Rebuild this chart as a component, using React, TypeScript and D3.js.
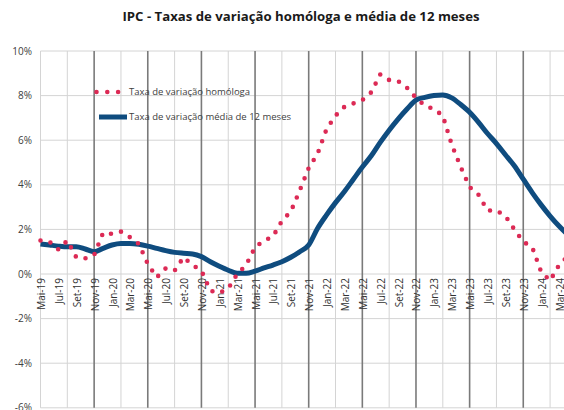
import React, { useEffect, useRef } from "react";
import * as d3 from "d3";

// meses (Mai-19 .. Abr-24)
const months = [
  "Mai-19", "Jun-19", "Jul-19", "Ago-19", "Set-19", "Out-19", "Nov-19", "Dez-19",
  "Jan-20", "Fev-20", "Mar-20", "Abr-20", "Mai-20", "Jun-20", "Jul-20", "Ago-20",
  "Set-20", "Out-20", "Nov-20", "Dez-20", "Jan-21", "Fev-21", "Mar-21", "Abr-21",
  "Mai-21", "Jun-21", "Jul-21", "Ago-21", "Set-21", "Out-21", "Nov-21", "Dez-21",
  "Jan-22", "Fev-22", "Mar-22", "Abr-22", "Mai-22", "Jun-22", "Jul-22", "Ago-22",
  "Set-22", "Out-22", "Nov-22", "Dez-22", "Jan-23", "Fev-23", "Mar-23", "Abr-23",
  "Mai-23", "Jun-23", "Jul-23", "Ago-23", "Set-23", "Out-23", "Nov-23", "Dez-23",
  "Jan-24", "Fev-24", "Mar-24", "Abr-24",
];

// taxa de variação homóloga (%)
const homologa = [
  1.5, 1.45, 1.1, 1.5, 0.75, 0.7, 0.85, 1.85,
  1.8, 1.9, 1.65, 1.35, 0.45, -0.15, 0.25, 0.15,
  0.75, 0.4, 0.15, -0.75, -0.85, -0.65, 0.0, 0.4,
  1.2, 1.5, 1.68, 2.38, 2.8, 3.75, 4.75, 5.4,
  6.5, 7.1, 7.5, 7.65, 7.8, 8.15, 8.95, 8.7,
  8.65, 8.35, 7.9, 7.55, 7.4, 7.1, 5.8, 4.8,
  3.9, 3.55, 2.85, 2.85, 2.6, 2.0, 1.45, 1.2,
  0.1, -0.3, 0.4, 0.8,
];

// taxa de variação média de 12 meses (%)
const media12 = [
  1.35, 1.3, 1.25, 1.22, 1.22, 1.12, 1.0, 1.15,
  1.3, 1.37, 1.37, 1.33, 1.25, 1.15, 1.05, 0.97,
  0.93, 0.9, 0.78, 0.55, 0.35, 0.17, 0.03, 0.03,
  0.13, 0.27, 0.4, 0.55, 0.75, 1.0, 1.3, 2.05,
  2.65, 3.2, 3.7, 4.25, 4.8, 5.3, 5.9, 6.45,
  6.95, 7.4, 7.8, 7.92, 8.0, 8.03, 7.9, 7.6,
  7.25, 6.8, 6.3, 5.85, 5.35, 4.85, 4.25, 3.65,
  3.1, 2.6, 2.15, 1.75,
];

const yTicks = [10, 8, 6, 4, 2, 0, -2, -4, -6];

const W = 564;
const H = 410;
const FONT = "'Open Sans', 'Noto Sans', sans-serif";
const RED = "#DC2A55";
const BLUE = "#0F4C7F";

const App: React.FC = () => {
  const svgRef = useRef<SVGSVGElement>(null);

  useEffect(() => {
    if (!svgRef.current) return;
    const svg = d3.select(svgRef.current);
    svg.selectAll("*").remove();

    const x = d3.scaleLinear().domain([0, months.length - 1]).range([40.5, 40.5 + 8.94 * (months.length - 1)]);
    const y = d3.scaleLinear().domain([-6, 10]).range([407.8, 51]);
    const xRight = W + 20;

    svg.append("rect").attr("width", W).attr("height", H).attr("fill", "#fff");

    // título
    svg
      .append("text")
      .attr("x", 301)
      .attr("y", 21)
      .attr("text-anchor", "middle")
      .style("font-family", FONT)
      .style("font-size", "13.2px")
      .style("font-weight", 700)
      .style("fill", "#1a1a1a")
      .text("IPC - Taxas de variação homóloga e média de 12 meses");

    // grelha horizontal
    const grid = svg.append("g");
    grid
      .selectAll("line.h")
      .data(yTicks)
      .enter()
      .append("line")
      .attr("x1", x(0))
      .attr("x2", xRight)
      .attr("y1", (d) => y(d))
      .attr("y2", (d) => y(d))
      .attr("stroke", "#d4d4d4")
      .attr("stroke-width", 1);

    // grelha vertical (cada 3 meses, escura cada 6)
    const vIdx = d3.range(0, months.length + 3, 3);
    grid
      .selectAll("line.v")
      .data(vIdx)
      .enter()
      .append("line")
      .attr("x1", (d) => x(d))
      .attr("x2", (d) => x(d))
      .attr("y1", y(10))
      .attr("y2", y(-6))
      .attr("stroke", (d) => (d > 0 && d % 6 === 0 ? "#7a7a7a" : "#d4d4d4"))
      .attr("stroke-width", (d) => (d > 0 && d % 6 === 0 ? 1.6 : 1));

    // rótulos do eixo y
    svg
      .append("g")
      .selectAll("text")
      .data(yTicks)
      .enter()
      .append("text")
      .attr("x", 32)
      .attr("y", (d) => y(d))
      .attr("dy", "0.35em")
      .attr("text-anchor", "end")
      .style("font-family", FONT)
      .style("font-size", "10px")
      .style("fill", "#404040")
      .text((d) => `${d}%`);

    // rótulos do eixo x (cada 2 meses)
    svg
      .append("g")
      .selectAll("text")
      .data(months.filter((_, i) => i % 2 === 0 && i < 59))
      .enter()
      .append("text")
      .attr("transform", (_, k) => `translate(${x(k * 2) + 1}, ${y(0) + 4}) rotate(-90)`)
      .attr("dy", "0.35em")
      .attr("text-anchor", "end")
      .style("font-family", FONT)
      .style("font-size", "10px")
      .style("fill", "#303030")
      .text((d) => d);

    const idx = d3.range(months.length);

    // média de 12 meses
    const lineBlue = d3
      .line<number>()
      .x((i) => x(i))
      .y((i) => y(media12[i]))
      .curve(d3.curveMonotoneX);
    svg
      .append("path")
      .datum(idx)
      .attr("fill", "none")
      .attr("stroke", BLUE)
      .attr("stroke-width", 5)
      .attr("stroke-linejoin", "round")
      .attr("d", lineBlue);

    // homóloga (pontilhado)
    const lineRed = d3
      .line<number>()
      .x((i) => x(i))
      .y((i) => y(homologa[i]));
    svg
      .append("path")
      .datum(idx)
      .attr("fill", "none")
      .attr("stroke", RED)
      .attr("stroke-width", 4.6)
      .attr("stroke-linecap", "round")
      .attr("stroke-dasharray", "0 10.3")
      .attr("d", lineRed);

    // legenda
    const legend = svg.append("g");
    legend
      .append("line")
      .attr("x1", 96.5)
      .attr("x2", 120)
      .attr("y1", 92)
      .attr("y2", 92)
      .attr("stroke", RED)
      .attr("stroke-width", 4.6)
      .attr("stroke-linecap", "round")
      .attr("stroke-dasharray", "0 10.8");
    legend
      .append("text")
      .attr("x", 129)
      .attr("y", 92)
      .attr("dy", "0.35em")
      .style("font-family", FONT)
      .style("font-size", "9.5px")
      .style("fill", "#404040")
      .text("Taxa de variação homóloga");
    legend
      .append("line")
      .attr("x1", 99)
      .attr("x2", 127)
      .attr("y1", 117)
      .attr("y2", 117)
      .attr("stroke", BLUE)
      .attr("stroke-width", 5);
    legend
      .append("text")
      .attr("x", 129)
      .attr("y", 117)
      .attr("dy", "0.35em")
      .style("font-family", FONT)
      .style("font-size", "9.5px")
      .style("fill", "#404040")
      .text("Taxa de variação média de 12 meses");
  }, []);

  return (
    <svg
      ref={svgRef}
      width={W}
      height={H}
      style={{ position: "absolute", left: 0, top: 0, display: "block" }}
    />
  );
};

export default App;
